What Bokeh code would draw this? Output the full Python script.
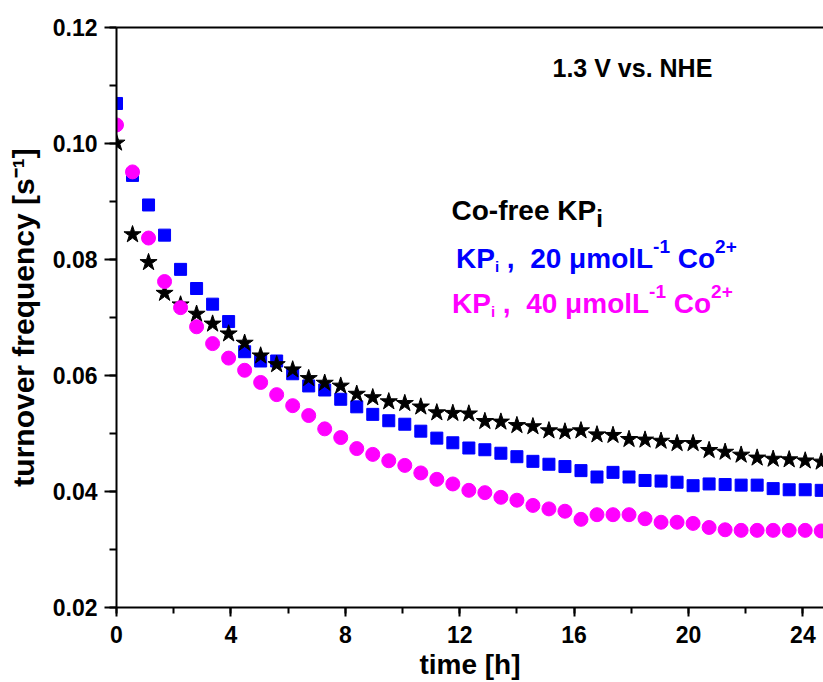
from bokeh.plotting import figure
from bokeh.models import (Range1d, LinearAxis, SingleIntervalTicker, FixedTicker,
                          NumeralTickFormatter, Label)
from bokeh.embed import file_html
from bokeh.resources import INLINE

# ---------------- data ----------------
time_h = [0.0, 0.56, 1.12, 1.68, 2.24, 2.8, 3.36, 3.92, 4.48, 5.04, 5.6, 6.16, 6.72,
          7.28, 7.84, 8.4, 8.96, 9.52, 10.08, 10.64, 11.2, 11.76, 12.32, 12.88, 13.44,
          14.0, 14.56, 15.12, 15.68, 16.24, 16.8, 17.36, 17.92, 18.48, 19.04, 19.6,
          20.16, 20.72, 21.28, 21.84, 22.4, 22.96, 23.52, 24.08, 24.64]

tof_cofree = [0.1001, 0.0843, 0.0795, 0.0742, 0.0722, 0.0706, 0.0689, 0.0672, 0.0656,
              0.0634, 0.0619, 0.0610, 0.0595, 0.0587, 0.0582, 0.0568, 0.0562, 0.0555,
              0.0552, 0.0546, 0.0536, 0.0535, 0.0534, 0.0521, 0.0520, 0.0514, 0.0512,
              0.0505, 0.0503, 0.0505, 0.0498, 0.0497, 0.0490, 0.0489, 0.0487, 0.0483,
              0.0483, 0.0471, 0.0468, 0.0463, 0.0458, 0.0456, 0.0455, 0.0453, 0.0451]

tof_co20 = [0.1069, 0.0945, 0.0894, 0.0842, 0.0783, 0.0750, 0.0723, 0.0693, 0.0641,
            0.0625, 0.0625, 0.0603, 0.0582, 0.0575, 0.0559, 0.0546, 0.0533, 0.0522,
            0.0516, 0.0504, 0.0492, 0.0484, 0.0475, 0.0472, 0.0466, 0.0460, 0.0452,
            0.0447, 0.0443, 0.0436, 0.0425, 0.0433, 0.0425, 0.0419, 0.0418, 0.0416,
            0.0410, 0.0413, 0.0412, 0.0411, 0.0411, 0.0405, 0.0403, 0.0403, 0.0402]

tof_co40 = [0.1032, 0.0951, 0.0837, 0.0762, 0.0717, 0.0684, 0.0655, 0.0630, 0.0609,
            0.0588, 0.0567, 0.0548, 0.0531, 0.0508, 0.0493, 0.0474, 0.0464, 0.0453,
            0.0445, 0.0432, 0.0421, 0.0413, 0.0402, 0.0398, 0.0390, 0.0385, 0.0376,
            0.0370, 0.0366, 0.0352, 0.0360, 0.0360, 0.0360, 0.0353, 0.0347, 0.0347,
            0.0345, 0.0338, 0.0334, 0.0333, 0.0333, 0.0333, 0.0333, 0.0333, 0.0332]

x_tick_step = 4
y_tick_step = 0.02

NB = "\u00a0"
title_text = "1.3 V vs. NHE"
legend_cofree = ["Co-free KP", "i"]
legend_co20 = ["KP", "i", NB + "," + NB * 2 + "20" + NB + "μmolL", "-1", NB + "Co", "2+"]
legend_co40 = ["KP", "i", NB + "," + NB * 2 + "40" + NB + "μmolL", "-1", NB + "Co", "2+"]
ylabel_text = "turnover frequency [s\u207b\u00b9]"
xlabel_text = "time [h]"

BLUE = "#0000FF"
MAGENTA = "#FF00FF"
FONT = "Liberation Sans"

# Arial/Liberation Sans Bold advance widths (1/1000 em)
W = {"C": 722, "o": 611, "-": 333, "f": 333, "r": 389, "e": 556, " ": 278, NB: 278,
     "K": 722, "P": 667, "i": 278, ",": 278, "0": 556, "1": 556, "2": 556, "3": 556,
     "4": 556, "μ": 611, "m": 889, "l": 278, "L": 611, "+": 584, ".": 278}


def tw(s, size):
    return sum(W.get(c, 556) for c in s) * size / 1000.0


# ---------------- figure ----------------
p = figure(width=823, height=682, output_backend="svg", toolbar_location=None,
           x_range=Range1d(0, 24.72), y_range=Range1d(0.02, 0.12),
           min_border_left=116, min_border_right=0, min_border_top=27,
           min_border_bottom=75)
p.outline_line_color = None
p.grid.visible = False
p.background_fill_color = "white"
p.border_fill_color = "white"

xa = p.xaxis[0]
xa.ticker = SingleIntervalTicker(interval=x_tick_step, num_minor_ticks=2)
ya = p.yaxis[0]
ya.ticker = SingleIntervalTicker(interval=y_tick_step, num_minor_ticks=2)
ya.formatter = NumeralTickFormatter(format="0.00")

for ax in (xa, ya):
    ax.axis_line_width = 2
    ax.axis_line_color = "black"
    ax.major_tick_line_width = 2
    ax.minor_tick_line_width = 2
    ax.major_tick_line_color = "black"
    ax.minor_tick_line_color = "black"
    ax.major_tick_in = 0
    ax.minor_tick_in = 0
    ax.major_label_text_font = FONT
    ax.major_label_text_font_size = "23px"
    ax.major_label_text_font_style = "bold"
    ax.major_label_text_color = "black"
    ax.axis_label_text_font = FONT
    ax.axis_label_text_font_style = "bold"
    ax.axis_label_text_color = "black"

xa.major_tick_out = 9
xa.minor_tick_out = 6
xa.major_label_standoff = 9
xa.axis_label = xlabel_text
xa.axis_label_text_font_size = "28px"
xa.axis_label_standoff = 3

ya.major_tick_out = 12
ya.minor_tick_out = 7
ya.major_label_standoff = 7
ya.axis_label = ylabel_text
ya.axis_label_text_font_size = "30px"
ya.axis_label_standoff = 10

top = LinearAxis(ticker=FixedTicker(ticks=[]), axis_line_width=2,
                 axis_line_color="black", major_tick_line_color=None,
                 minor_tick_line_color=None)
p.add_layout(top, "above")

# ---------------- data marks ----------------
p.scatter(time_h, tof_co20, marker="square", size=12, fill_color=BLUE,
          line_color=BLUE, line_width=1)
p.scatter(time_h, tof_cofree, marker="star", size=18, fill_color="black",
          line_color="black", line_width=1)
p.scatter(time_h, tof_co40, marker="circle", size=14, fill_color=MAGENTA,
          line_color=MAGENTA, line_width=1)

# ---------------- texts inside the frame ----------------
X0, Y0 = 116.0, 616.0  # canvas anchor of data point (0, 0.02), baseline-corrected


def put(xp, yp, s, size, color="black", align="left"):
    p.add_layout(Label(x=0, y=0.02, x_offset=xp - X0, y_offset=Y0 - yp, text=s,
                       text_font=FONT, text_font_size=f"{size}px",
                       text_font_style="bold", text_color=color,
                       text_align=align, text_baseline="alphabetic"))


put(552, 76, title_text, 25)

x = 451
put(x, 219, legend_cofree[0], 28)
x += tw(legend_cofree[0], 28)
put(x, 227, legend_cofree[1], 24)


def legend_line(parts, x, base, color):
    sizes = [28, 15, 28, 19, 28, 19]
    shifts = [0, 8, 0, -12, 0, -12]
    for s, sz, sh in zip(parts, sizes, shifts):
        put(x, base + sh, s, sz, color)
        x += tw(s, sz)


legend_line(legend_co20, 455.5, 266.5, BLUE)
legend_line(legend_co40, 451.5, 311.5, MAGENTA)

open("out.html", "w").write(file_html(p, INLINE))
